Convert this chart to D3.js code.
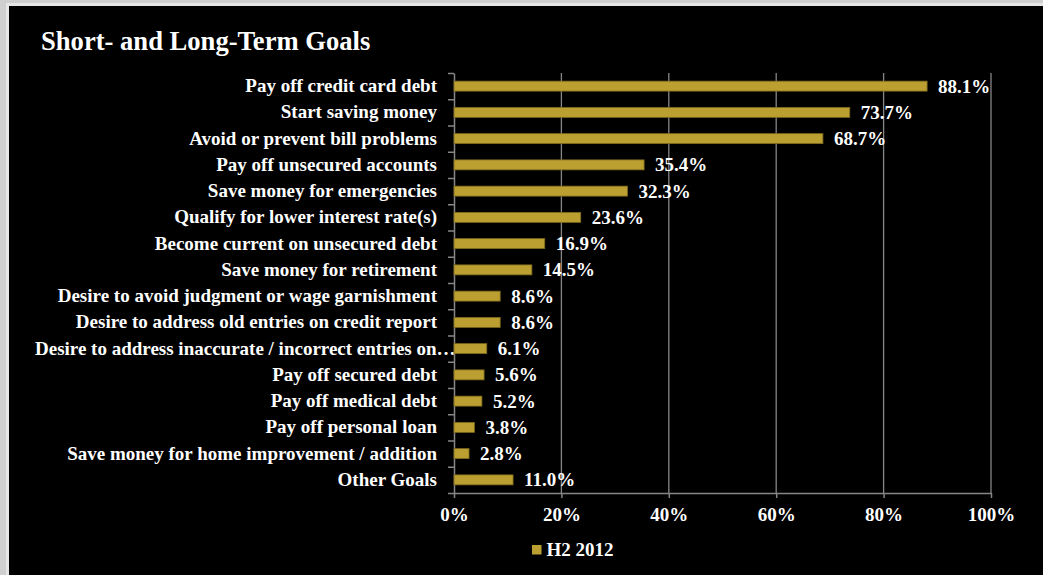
<!DOCTYPE html>
<html>
<head>
<meta charset="utf-8">
<script src="https://cdn.jsdelivr.net/npm/d3@7"></script>
<style>
  html, body { margin: 0; padding: 0; background: #cfcfcf; }
  svg { display: block; }
  text { font-family: "Liberation Serif", "Times New Roman", serif; font-weight: bold; fill: #ffffff; }
</style>
</head>
<body>
<svg id="chart" width="1043" height="575"></svg>
<script>
// Goals reported by respondents, share of clients (%)
const categories = [
  "Pay off credit card debt",
  "Start saving money",
  "Avoid or prevent bill problems",
  "Pay off unsecured accounts",
  "Save money for emergencies",
  "Qualify for lower interest rate(s)",
  "Become current on unsecured debt",
  "Save money for retirement",
  "Desire to avoid judgment or wage garnishment",
  "Desire to address old entries on credit report",
  "Desire to address inaccurate / incorrect entries on…",
  "Pay off secured debt",
  "Pay off medical debt",
  "Pay off personal loan",
  "Save money for home improvement / addition",
  "Other Goals"
];
const values = [88.1, 73.7, 68.7, 35.4, 32.3, 23.6, 16.9, 14.5, 8.6, 8.6, 6.1, 5.6, 5.2, 3.8, 2.8, 11.0];
const xTicks = [0, 20, 40, 60, 80, 100];
const seriesName = "H2 2012";
const chartTitle = "Short- and Long-Term Goals";

const W = 1043, H = 575;
const plot = { left: 454, right: 991, top: 73, bottom: 493 };
const barColor = "#bc9f31";
const gridColor = "#868686";
const fontSize = 19;

const svg = d3.select("#chart");

// panel frame: light border on top/left, black chart area
svg.append("rect").attr("x", 0).attr("y", 0).attr("width", W).attr("height", H).attr("fill", "#cfcfcf");
svg.append("rect").attr("x", 6).attr("y", 3).attr("width", W).attr("height", H).attr("fill", "#e6e6e6");
svg.append("rect").attr("x", 9).attr("y", 6).attr("width", W).attr("height", H).attr("fill", "#000000");

svg.append("text")
  .attr("x", 41).attr("y", 50)
  .style("font-size", "26.6px")
  .text(chartTitle);

const x = d3.scaleLinear().domain([0, 100]).range([plot.left, plot.right]);
const y = d3.scaleBand().domain(categories).range([plot.top, plot.bottom])
  .paddingInner(0.62).paddingOuter(0.31);
const yEdge = d3.scaleLinear().domain([0, categories.length]).range([plot.top, plot.bottom]);

// vertical gridlines
svg.append("g")
  .selectAll("line")
  .data(xTicks.filter(d => d > 0))
  .join("line")
  .attr("x1", d => x(d)).attr("x2", d => x(d))
  .attr("y1", plot.top).attr("y2", plot.bottom)
  .attr("stroke", gridColor).attr("stroke-width", 1.3);

// bottom axis
const xAxis = svg.append("g")
  .attr("transform", `translate(0,${plot.bottom})`)
  .call(d3.axisBottom(x).tickValues(xTicks).tickFormat(d => d + "%").tickSize(5).tickPadding(10).tickSizeOuter(0));
xAxis.select(".domain").attr("stroke", gridColor).attr("stroke-width", 1.5);
xAxis.selectAll(".tick line").attr("stroke", gridColor).attr("stroke-width", 1.5);
xAxis.selectAll(".tick text")
  .attr("fill", "#ffffff")
  .style("font-size", fontSize + "px")
  .style("font-family", "'Liberation Serif', 'Times New Roman', serif")
  .style("font-weight", "bold");

// left axis: line with ticks on category boundaries
const yEdgeAxis = svg.append("g")
  .attr("transform", `translate(${plot.left},0)`)
  .call(d3.axisLeft(yEdge).tickValues(d3.range(categories.length + 1)).tickFormat("").tickSize(6).tickSizeOuter(0));
yEdgeAxis.select(".domain").attr("stroke", gridColor).attr("stroke-width", 1.5);
yEdgeAxis.selectAll(".tick line").attr("stroke", gridColor).attr("stroke-width", 1.5);

// category labels
const yAxis = svg.append("g")
  .attr("transform", `translate(${plot.left},0)`)
  .call(d3.axisLeft(y).tickSize(0).tickPadding(17));
yAxis.select(".domain").remove();
yAxis.selectAll(".tick text")
  .attr("fill", "#ffffff")
  .style("font-size", fontSize + "px")
  .style("font-family", "'Liberation Serif', 'Times New Roman', serif")
  .style("font-weight", "bold")
  .each(function () {
    // labels too long for the label area start at its left edge
    const bb = this.getBBox();
    const abs = plot.left + bb.x;
    if (abs < 35) {
      d3.select(this).attr("text-anchor", "start").attr("x", 35 - plot.left);
    }
  });

// bars
svg.append("g")
  .selectAll("rect")
  .data(values)
  .join("rect")
  .attr("x", x(0))
  .attr("y", (d, i) => y(categories[i]))
  .attr("width", d => x(d) - x(0))
  .attr("height", y.bandwidth())
  .attr("fill", barColor)
  .attr("stroke", "#7d6a1e")
  .attr("stroke-width", 0.8);

// value labels
svg.append("g")
  .selectAll("text")
  .data(values)
  .join("text")
  .attr("x", d => x(d) + 11)
  .attr("y", (d, i) => y(categories[i]) + y.bandwidth() / 2)
  .attr("dy", "0.34em")
  .style("font-size", fontSize + "px")
  .text(d => d.toFixed(1) + "%");

// legend
const lg = svg.append("g").attr("transform", "translate(532,545)");
lg.append("rect").attr("width", 9.5).attr("height", 9.5).attr("fill", barColor);
lg.append("text").attr("x", 14.5).attr("y", 11).style("font-size", fontSize + "px").text(seriesName);
</script>
</body>
</html>
